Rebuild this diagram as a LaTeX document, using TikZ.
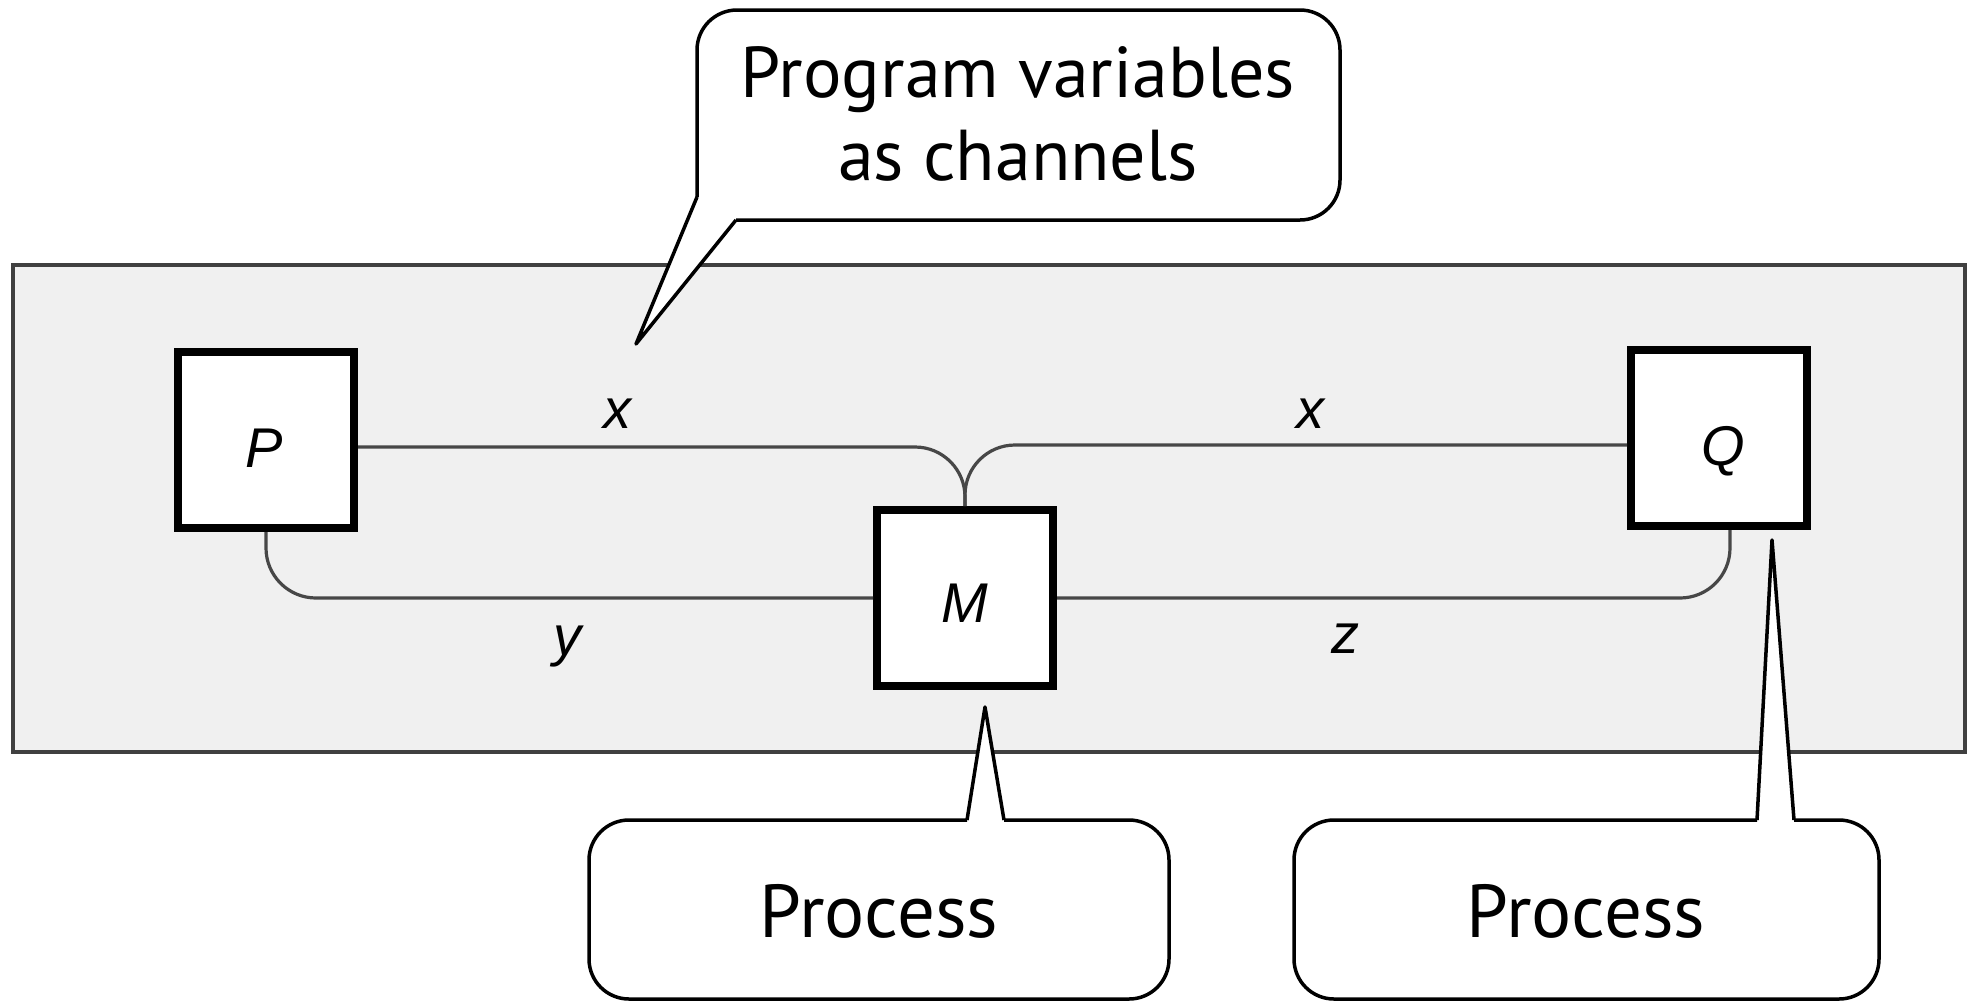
\documentclass[tikz,border=0pt]{standalone}
\usepackage{fontspec}
\setmainfont{PT Sans}
\newfontfamily\labfont{Liberation Sans}
\usetikzlibrary{calc}
\tikzset{
  proc/.style={draw=black, line width=4pt, fill=white, minimum width=88pt, minimum height=88pt, inner sep=0pt},
  conn/.style={draw=black!72, line width=1.6pt, rounded corners=25pt},
  lab/.style={font=\labfont\itshape\fontsize{28pt}{30pt}\selectfont, anchor=base, inner sep=0pt},
  cline/.style={draw=black, line width=1.75pt, line join=round},
  ctext/.style={align=center, inner sep=0pt},
}
\begin{document}
\begin{tikzpicture}[x=0.5pt,y=-0.5pt]
\useasboundingbox (0,0) rectangle (1975,1002);
% scanned panel
\fill[black!6] (13,265) rectangle (1965,752);
\draw[black!75, line width=1.6pt] (13,265) rectangle (1965,752);
% process boxes
\node[proc] (P) at (266,440) {};
\node[proc] (M) at (965,598) {};
\node[proc] (Q) at (1719,438) {};
\node[lab] (Pl) at (264,467) {P};
\node[lab] (Ml) at (965,622) {M};
\node[lab] (Ql) at (1723,465) {Q};
% channels
\draw[conn] ($(P.east)+(0,7)$) -| (M.north);
\draw[conn] ($(Q.west)+(0,7)$) -| (M.north);
\draw[conn] (P.south) |- (M.west);
\draw[conn] (M.east) -| ($(Q.south)+(11,0)$);
\node[lab] (x1) at (617,428) {x};
\node[lab] (x2) at (1310,428) {x};
\node[lab] (yl) at (567,655) {y};
\node[lab] (zl) at (1345,653) {z};
% callout: program variables
\coordinate (t1) at (636,344);
\fill[white, rounded corners=20pt] (736,220) -- (1340,220) -- (1340,10) -- (697,10) -- (697,197) -- cycle;
\fill[white] (697,197) -- (t1) -- (736,220) -- (720,200) -- cycle;
\draw[cline, rounded corners=20pt] (736,220) -- (1340,220) -- (1340,10) -- (697,10) -- (697,197);
\draw[cline] (697,197) -- (t1) -- (736,220);
\node[ctext, anchor=base, font=\fontsize{36pt}{41.5pt}\selectfont] (c1) at (1018,180) {Program variables\\as channels};
% callout: process M
\coordinate (t2) at (985,707);
\fill[white, rounded corners=20pt] (589,820) rectangle (1169,999);
\fill[white] (967,822) -- (t2) -- (1005,822) -- cycle;
\draw[cline, rounded corners=20pt] (1004,820) -- (1169,820) -- (1169,999) -- (589,999) -- (589,820) -- (967,820);
\draw[cline] (967,820) -- (t2) -- (1004,820);
\node[ctext, anchor=base, font=\fontsize{37.5pt}{40pt}\selectfont] (c2) at (879,937) {Process};
% callout: process Q
\coordinate (t3) at (1772,540);
\fill[white, rounded corners=20pt] (1294,820) rectangle (1879,999);
\fill[white] (1756,822) -- (t3) -- (1795,822) -- cycle;
\draw[cline, rounded corners=20pt] (1794,820) -- (1879,820) -- (1879,999) -- (1294,999) -- (1294,820) -- (1757,820);
\draw[cline] (1757,820) -- (t3) -- (1794,820);
\node[ctext, anchor=base, font=\fontsize{37.5pt}{40pt}\selectfont] (c3) at (1586,937) {Process};
\end{tikzpicture}
\end{document}
